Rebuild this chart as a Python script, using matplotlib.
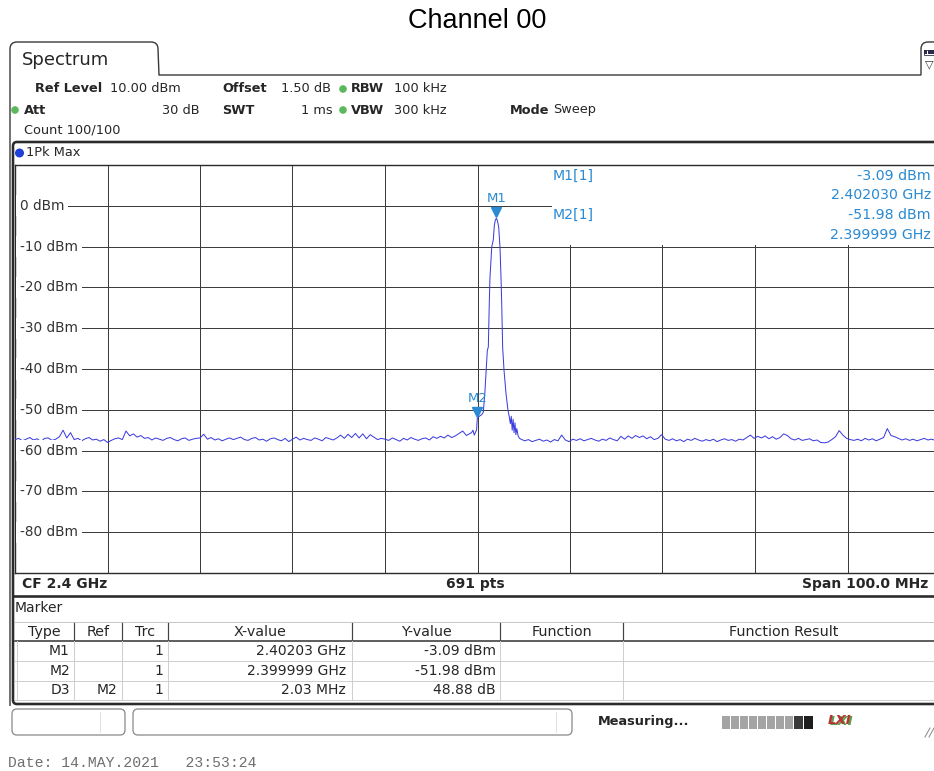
import numpy as np
import matplotlib
matplotlib.use("Agg")
import matplotlib.pyplot as plt
from matplotlib.patches import Rectangle, FancyBboxPatch, Circle, PathPatch
from matplotlib.path import Path
from matplotlib.transforms import offset_copy

# ---------------- data ----------------
title = "Channel 00"
span_start_ghz = 2.35
span_stop_ghz = 2.45
ref_level_dbm = 10
bottom_level_dbm = -90
level_ticks = [0, -10, -20, -30, -40, -50, -60, -70, -80]

noise_step_ghz = 0.0004
noise_left_start_ghz = 2.3500
noise_left_dbm = [
    -57.3, -57.0, -57.6, -57.2, -56.8, -57.4, -57.1, -57.8, -57.0, -56.9,
    -57.5, -57.2, -56.6, -55.0, -56.9, -55.6, -57.3, -57.0, -57.6, -57.1,
    -56.8, -57.4, -57.2, -57.7, -57.3, -58.0, -57.5, -57.1, -56.9, -57.3,
    -55.2, -56.4, -55.9, -56.7, -56.3, -57.0, -56.8, -57.4, -56.9, -57.2,
    -57.5, -57.0, -56.8, -57.3, -57.6, -57.1, -56.9, -57.5, -57.2, -57.0,
    -56.9, -56.0, -57.2, -56.8, -57.4, -57.1, -57.6, -57.2, -56.9, -57.3,
    -57.0, -56.7, -57.3, -57.5, -57.0, -56.8, -57.4, -57.2, -57.7, -57.1,
    -56.9, -57.3, -57.6, -57.0, -57.8, -57.2, -56.7, -57.4, -57.0, -57.3,
    -57.5, -56.9, -57.2, -57.6, -56.8, -57.1, -57.4, -56.9, -56.2, -57.0,
    -56.0, -56.8, -55.8, -56.9, -55.9, -57.1, -56.1, -56.7, -57.3, -57.0,
    -57.2, -57.5, -56.9, -57.3, -57.7, -57.0, -57.4, -56.8, -57.2, -57.5,
    -57.1, -56.9, -57.4, -56.6, -57.0, -56.5, -56.9, -56.2, -56.8, -56.4,
    -55.8, -55.2, -56.3,
]
peak_freq_ghz = [
    2.39935, 2.39951, 2.39965, 2.39980, 2.39990, 2.39998, 2.40010, 2.40025,
    2.40045, 2.40063, 2.40081, 2.40092, 2.40106, 2.40117, 2.40128, 2.40135,
    2.40146, 2.40154, 2.40171, 2.40182, 2.40192, 2.40203, 2.40214, 2.40229,
    2.40236, 2.40243, 2.40254, 2.40261, 2.40272, 2.40287, 2.40308, 2.40330,
    2.40345, 2.40355, 2.40365, 2.40375, 2.40385, 2.40395, 2.40405, 2.40415,
    2.40425, 2.40440, 2.40455,
]
peak_dbm = [
    -55.6, -55.0, -56.2, -55.4, -55.0, -51.98, -51.8, -51.5,
    -51.2, -50.6, -45.3, -41.1, -35.5, -34.6, -23.2, -17.5,
    -13.3, -10.1, -8.3, -4.8, -3.6, -3.09, -3.5, -5.2,
    -7.7, -10.1, -17.5, -23.2, -34.7, -40.4, -46.0, -50.2,
    -51.9, -53.4, -51.6, -55.0, -52.3, -55.6, -53.2, -56.1,
    -54.6, -56.5, -57.0,
]
noise_right_start_ghz = 2.4047
noise_right_dbm = [
    -57.2, -57.6, -57.3, -57.8, -57.5, -57.2, -57.7, -57.4, -57.9, -57.3,
    -57.6, -56.2, -57.4, -57.8, -57.2, -57.5, -57.1, -57.6, -57.3, -57.0,
    -57.4, -57.7, -57.2, -57.5, -56.9, -57.3, -57.6, -56.5, -57.2, -56.4,
    -57.0, -56.3, -56.8, -56.4, -57.1, -56.6, -57.3, -57.0, -56.1, -57.2,
    -57.5, -57.1, -57.6, -57.3, -57.8, -57.2, -57.5, -57.0, -57.4, -57.7,
    -57.3, -57.6, -57.2, -57.8, -57.4, -57.1, -57.5, -57.3, -57.7, -57.2,
    -57.4, -56.8, -56.2, -57.0, -56.5, -56.9, -56.4, -57.1, -56.6, -57.2,
    -56.8, -55.9, -56.3, -57.1, -57.4, -57.0, -57.5, -57.3, -57.1, -57.6,
    -57.4, -58.0, -58.1, -57.9, -57.3, -56.6, -55.1, -56.2, -57.0, -57.3,
    -57.5, -57.2, -57.6, -57.0, -57.4, -57.1, -57.6, -57.2, -56.8, -54.6,
    -56.3, -56.6, -57.0, -57.4, -57.1, -57.5, -57.2, -57.6, -57.3, -57.0,
    -57.4, -57.2, -57.5,
]

marker_names = ["M1", "M2"]
marker_freq_ghz = [2.402030, 2.399999]
marker_dbm = [-3.09, -51.98]

header_line1 = [("Ref Level", True), ("10.00 dBm", False), ("Offset", True),
                ("1.50 dB", False), ("RBW", True), ("100 kHz", False)]
header_line2 = [("Att", True), ("30 dB", False), ("SWT", True), ("1 ms", False),
                ("VBW", True), ("300 kHz", False), ("Mode", True), ("Sweep", False)]
count_text = "Count 100/100"
trace_label = "1Pk Max"
cf_text = "CF 2.4 GHz"
pts_text = "691 pts"
span_text = "Span 100.0 MHz"

table_header = ["Type", "Ref", "Trc", "X-value", "Y-value", "Function", "Function Result"]
table_type = ["M1", "M2", "D3"]
table_ref = ["", "", "M2"]
table_trc = ["1", "1", "1"]
table_x = ["2.40203 GHz", "2.399999 GHz", "2.03 MHz"]
table_y = ["-3.09 dBm", "-51.98 dBm", "48.88 dB"]
status_text = "Measuring..."
date_text = "Date: 14.MAY.2021   23:53:24"

# ---------------- figure ----------------
W, H = 934, 771
fig = plt.figure(figsize=(W / 100, H / 100), dpi=100)
fig.patch.set_facecolor("white")
PX = 0.72  # points per pixel

bg = fig.add_axes([0, 0, 1, 1])
bg.set_xlim(0, W)
bg.set_ylim(H, 0)
bg.axis("off")

DARK = "#2b2b2b"
TXT = "#262626"
MC = "#2a8ad2"
FONT = "DejaVu Sans"

# title
bg.text(477, 21, title, ha="center", va="center", fontsize=19.5,
        family="Liberation Sans", color="black")

# tab outline + window frame
verts = [(10, 706), (10, 49), (10, 42), (17, 42), (151, 42), (158, 42), (158, 49),
         (159, 75), (921, 75), (921, 49), (921, 42), (928, 42), (945, 42)]
codes = [Path.MOVETO, Path.LINETO, Path.CURVE3, Path.CURVE3, Path.LINETO,
         Path.CURVE3, Path.CURVE3, Path.LINETO, Path.LINETO, Path.LINETO,
         Path.CURVE3, Path.CURVE3, Path.LINETO]
bg.add_patch(PathPatch(Path(verts, codes), fill=False, ec="#3a3a3a", lw=1.4 * PX))
bg.text(22, 60, "Spectrum", ha="left", va="center", fontsize=13, family=FONT, color=TXT)
# icon at right
for i in range(3):
    bg.add_patch(Rectangle((924 + i * 3.6, 50), 3.0, 4, fc="#2a2a4a", ec="none"))
bg.add_patch(Rectangle((923.5, 49.5), 11, 5, fill=False, ec="#2a2a4a", lw=0.8 * PX))
bg.text(929, 64, "\u25BD", ha="center", va="center", fontsize=8, color="#333", family=FONT)

# header text
GREEN = "#5cb85c"
y1, y2, y3 = 89, 110, 130
x1 = [35, 110, 222, 281, 351, 394]
for (s, b), x in zip(header_line1, x1):
    bg.text(x, y1, s, ha="left", va="center", fontsize=9.3, family=FONT,
            fontweight="bold" if b else "normal", color=TXT)
x2 = [(24, "left"), (200, "right"), (222, "left"), (333, "right"),
      (351, "left"), (394, "left"), (510, "left"), (553, "left")]
for (s, b), (x, ha) in zip(header_line2, x2):
    bg.text(x, y2, s, ha=ha, va="center", fontsize=9.3, family=FONT,
            fontweight="bold" if b else "normal", color=TXT)
for (cx, cy) in [(343, y1), (15, y2), (343, y2)]:
    bg.add_patch(Circle((cx, cy), 3.8, fc=GREEN, ec="none"))
bg.text(24, y3, count_text, ha="left", va="center", fontsize=9.3, family=FONT, color=TXT)

# diagram + marker table frame
bg.add_patch(FancyBboxPatch((13, 142), 940, 562, boxstyle="round,pad=0,rounding_size=4",
                            fc="white", ec=DARK, lw=2.6 * PX))
bg.plot([13, 950], [596, 596], color=DARK, lw=2.6 * PX, solid_capstyle="butt")
bg.add_patch(Circle((19.5, 153), 4.5, fc="#1f3fd6", ec="none"))
bg.text(26, 153, trace_label, ha="left", va="center", fontsize=9.3, family=FONT, color=TXT)
bg.text(22, 584, cf_text, ha="left", va="center", fontsize=10, family=FONT,
        fontweight="bold", color=TXT)
bg.text(475, 584, pts_text, ha="center", va="center", fontsize=10, family=FONT,
        fontweight="bold", color=TXT)
bg.text(928, 584, span_text, ha="right", va="center", fontsize=10, family=FONT,
        fontweight="bold", color=TXT)

# ---------------- spectrum axes ----------------
L, T, R, B = 15, 165, 940, 573
ax = fig.add_axes([L / W, 1 - B / H, (R - L) / W, (B - T) / H])
ax.set_xlim(span_start_ghz, span_stop_ghz)
ax.set_ylim(bottom_level_dbm, ref_level_dbm)
ax.set_xticks(np.linspace(span_start_ghz, span_stop_ghz, 11))
ax.set_yticks(np.arange(bottom_level_dbm, ref_level_dbm + 1, 10))
ax.tick_params(length=0, labelbottom=False, labelleft=False)
ax.grid(True, color="#3c3c3c", lw=1.0 * PX)
ax.set_axisbelow(True)
for s in ax.spines.values():
    s.set_color(DARK)
    s.set_linewidth(1.4 * PX)

# white marker-info area in upper right
info_left = span_start_ghz + (552 - L) / (R - L) * (span_stop_ghz - span_start_ghz)
ax.add_patch(Rectangle((info_left, -9.6), 0.06, 19.6, fc="white", ec="none", zorder=1))

freq = np.concatenate([
    noise_left_start_ghz + noise_step_ghz * np.arange(len(noise_left_dbm)),
    np.array(peak_freq_ghz),
    noise_right_start_ghz + noise_step_ghz * np.arange(len(noise_right_dbm)),
])
level = np.concatenate([noise_left_dbm, peak_dbm, noise_right_dbm])
ax.plot(freq, level, color="#3a3ade", lw=1.0 * PX, zorder=3)

for lev in level_ticks:
    ax.annotate(f"{lev} dBm", xy=(0, lev), xycoords=("axes fraction", "data"),
                xytext=(3.6, 0), textcoords="offset points", ha="left", va="center",
                fontsize=9.8, family=FONT, color="#333",
                bbox=dict(fc="white", ec="none", pad=2.6), zorder=4)

tri = offset_copy(ax.transData, fig=fig, x=0, y=4.5, units="points")
for name, f, l in zip(marker_names, marker_freq_ghz, marker_dbm):
    ax.plot([f], [l], marker="v", ms=6.5, color=MC, transform=tri, zorder=5,
            clip_on=False)
    ax.annotate(name, xy=(f, l), xytext=(0, 14), textcoords="offset points",
                ha="center", va="center", fontsize=9.5, family=FONT, color=MC, zorder=5)

# marker info text (top right), drawn on top of the spectrum axes
info_y = [(176, 195), (215, 235)]
for name, f, l, (ya, yb) in zip(marker_names, marker_freq_ghz, marker_dbm, info_y):
    for x, y, s, ha in [(553, ya, f"{name}[1]", "left"),
                        (931, ya, f"{l:.2f} dBm", "right"),
                        (931, yb, f"{f:.6f} GHz", "right")]:
        fig.text(x / W, 1 - y / H, s, ha=ha, va="center", fontsize=10.2,
                 family=FONT, color=MC, zorder=10)

# ---------------- marker table ----------------
bg.text(15, 608, "Marker", ha="left", va="center", fontsize=10, family=FONT, color=TXT)
col_x = [15, 74, 122, 168, 352, 500, 623, 950]
hy0, hy1 = 622, 641
row_y = [641, 661, 681, 700]
bg.plot([15, 950], [hy0, hy0], color="#c8c8c8", lw=1 * PX)
bg.plot([15, 950], [hy1, hy1], color="#3a3a3a", lw=1.6 * PX)
for x in col_x[1:-1]:
    bg.plot([x, x], [hy0 + 1, hy1], color="#444", lw=1.2 * PX)
    bg.plot([x, x], [hy1, row_y[-1]], color="#cfcfcf", lw=1 * PX)
for y in row_y[1:]:
    bg.plot([15, 950], [y, y], color="#cfcfcf", lw=1 * PX)
bg.plot([17, 17], [hy1, row_y[-1]], color="#cfcfcf", lw=1 * PX)
for i, s in enumerate(table_header):
    cx = (col_x[i] + col_x[i + 1]) / 2 if i < 6 else 784
    bg.text(cx, 632, s, ha="center", va="center", fontsize=10.3, family=FONT, color=TXT)
right_x = [70, 117, 163, 346, 496]
for r in range(3):
    cy = (row_y[r] + row_y[r + 1]) / 2
    for s, x in zip([table_type[r], table_ref[r], table_trc[r], table_x[r], table_y[r]], right_x):
        bg.text(x, cy, s, ha="right", va="center", fontsize=10, family=FONT, color=TXT)

# ---------------- status bar ----------------
for (x0, w, sep) in [(12, 113, 100), (133, 439, 556)]:
    bg.add_patch(FancyBboxPatch((x0, 709), w, 26, boxstyle="round,pad=0,rounding_size=5",
                                fc="white", ec="#8c8c8c", lw=1.3 * PX))
    bg.plot([sep, sep], [712, 732], color="#e2e2e2", lw=1 * PX)
bg.text(598, 722, status_text, ha="left", va="center", fontsize=9.3, family=FONT,
        fontweight="bold", color=TXT)
for i in range(8):
    bg.add_patch(Rectangle((722 + i * 9, 716), 7.5, 13, fc="#a4a4a4", ec="none"))
bg.add_patch(Rectangle((794, 716), 9, 13, fc="#3a3a3a", ec="none"))
bg.add_patch(Rectangle((804, 716), 9, 13, fc="#1e1e1e", ec="none"))
bg.text(829.5, 721.5, "LXI", ha="left", va="center", fontsize=9.5, family=FONT,
        fontweight="bold", style="italic", color="#58a050")
bg.text(828, 720.5, "LXI", ha="left", va="center", fontsize=9.5, family=FONT,
        fontweight="bold", style="italic", color="#b83030")
for dx in (0, 4):
    bg.plot([925 + dx, 930 + dx], [737, 728], color="#888", lw=1 * PX)

bg.text(8, 763, date_text, ha="left", va="center", fontsize=10.6,
        family="Liberation Mono", color="#6e6e6e")

fig.savefig("out.png", dpi=100, facecolor="white")
